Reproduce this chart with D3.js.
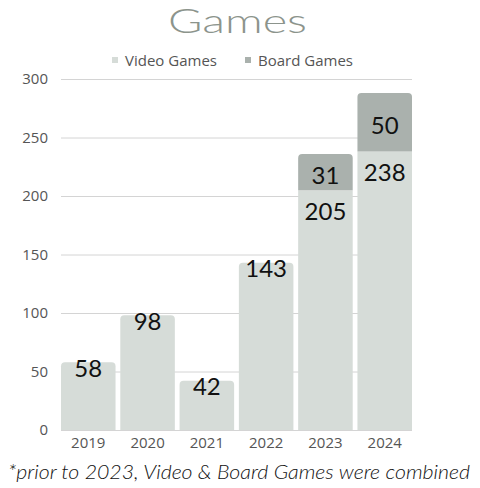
<!DOCTYPE html>
<html><head><meta charset="utf-8">
<script src="https://cdn.jsdelivr.net/npm/d3@7"></script>
<style>body{margin:0;background:#fff}svg{display:block}</style>
</head><body>
<svg id="c" width="480" height="488"></svg>
<script>
const years = ["2019","2020","2021","2022","2023","2024"];
const videoGames = [58, 98, 42, 143, 205, 238];
const boardGames = [0, 0, 0, 0, 31, 50];
const yTicks = [0, 50, 100, 150, 200, 250, 300];
const seriesNames = ["Video Games", "Board Games"];
const titleText = "Games";
const footnote = "*prior to 2023, Video & Board Games were combined";

const colors = {video: "#d6dcd8", board: "#aab1ad"};
const svg = d3.select("#c");
const W = 480, H = 488;
const m = {left: 61, right: 68, top: 79, bottom: 58};
const x = d3.scaleBand().domain(years).range([m.left, W - m.right]).paddingInner(0.08).paddingOuter(0);
const y = d3.scaleLinear().domain([0, 300]).range([H - m.bottom, m.top]);

// title
svg.append("text").attr("x", 168).attr("y", 33)
  .attr("font-family", "Lato, sans-serif").attr("font-weight", 300).attr("font-size", 34).attr("fill", "#8c948c")
  .attr("textLength", 139).attr("lengthAdjust", "spacingAndGlyphs").text(titleText);

// legend
const lg = svg.append("g").attr("font-family", "'Open Sans', sans-serif").attr("font-size", 15).attr("fill", "#555");
const lx = [112, 245];
seriesNames.forEach((n, i) => {
  lg.append("rect").attr("x", lx[i]).attr("y", 57).attr("width", 6).attr("height", 6)
    .attr("fill", i === 0 ? colors.video : colors.board);
  lg.append("text").attr("x", lx[i] + 13).attr("y", 66).text(n);
});

// gridlines
svg.append("g").selectAll("line").data(yTicks).join("line")
  .attr("x1", m.left).attr("x2", W - m.right)
  .attr("y1", d => y(d) + 0.5).attr("y2", d => y(d) + 0.5)
  .attr("stroke", "#d4d4d4").attr("stroke-width", 1);

// y axis
const ya = svg.append("g").attr("transform", `translate(${m.left},0)`)
  .call(d3.axisLeft(y).tickValues(yTicks).tickSize(0).tickPadding(13));
ya.select(".domain").remove();
ya.selectAll("text").attr("font-family", "'Open Sans', sans-serif").attr("font-size", 15).attr("fill", "#555");

// x axis
const xa = svg.append("g").attr("transform", `translate(0,${H - m.bottom})`)
  .call(d3.axisBottom(x).tickSize(0).tickPadding(7));
xa.select(".domain").remove();
xa.selectAll("text").attr("font-family", "'Open Sans', sans-serif").attr("font-size", 15).attr("fill", "#555");

function topRounded(x0, y0, w, h, r) {
  r = Math.min(r, h, w / 2);
  return `M${x0},${y0 + h}V${y0 + r}Q${x0},${y0} ${x0 + r},${y0}H${x0 + w - r}Q${x0 + w},${y0} ${x0 + w},${y0 + r}V${y0 + h}Z`;
}

const bw = x.bandwidth();
const g = svg.append("g");
years.forEach((yr, i) => {
  const v = videoGames[i], b = boardGames[i];
  const x0 = x(yr);
  const vTop = y(v);
  g.append("path").attr("d", b > 0
      ? `M${x0},${y(0)}V${vTop}H${x0 + bw}V${y(0)}Z`
      : topRounded(x0, vTop, bw, y(0) - vTop, 4))
    .attr("fill", colors.video);
  if (b > 0) {
    const bTop = y(v + b);
    g.append("path").attr("d", topRounded(x0, bTop, bw, vTop - bTop, 4)).attr("fill", colors.board);
  }
});

// labels
const lab = svg.append("g").attr("font-family", "Lato, sans-serif").attr("font-weight", 400).attr("font-size", 24)
  .attr("fill", "#111").attr("text-anchor", "middle").attr("dominant-baseline", "central");
years.forEach((yr, i) => {
  const v = videoGames[i], b = boardGames[i];
  const cx = x(yr) + bw / 2;
  lab.append("text").attr("x", cx).attr("y", y(v) + (b > 0 ? 20 : 5)).text(v);
  if (b > 0) lab.append("text").attr("x", cx).attr("y", (y(v) + y(v + b)) / 2 + 2).text(b);
});

// footnote
svg.append("text").attr("x", 8).attr("y", 479)
  .attr("font-family", "Lato, sans-serif").attr("font-style", "italic").attr("font-weight", 300).attr("font-size", 20)
  .attr("fill", "#111").attr("textLength", 462).attr("lengthAdjust", "spacingAndGlyphs").text(footnote);
</script>
</body></html>
